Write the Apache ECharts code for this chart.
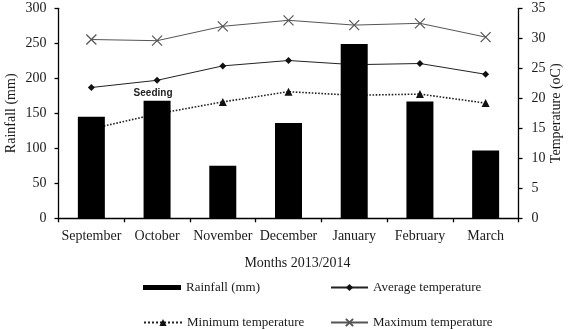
<!DOCTYPE html>
<html>
<head>
<meta charset="utf-8">
<script src="https://cdn.jsdelivr.net/npm/echarts@6/dist/echarts.min.js"></script>
<style>html,body{margin:0;padding:0;background:#fff}#c{width:569px;height:329px}</style>
</head>
<body>
<div id="c"></div>
<script>
var categories = ['September','October','November','December','January','February','March'];
var rainfall = [145, 168, 75, 136, 249, 167, 97];
var avgTemp = [21.8, 23.0, 25.4, 26.3, 25.6, 25.8, 24.0];
var minTemp = [14.9, 17.4, 19.4, 21.1, 20.5, 20.7, 19.2];
var maxTemp = [29.8, 29.6, 32.0, 33.0, 32.2, 32.5, 30.2];
var annotations = ['', 'Seeding', '', '', '', '', ''];

var serif = 'Liberation Serif';
var txt = '#1a1a1a';

var rainData = rainfall.map(function (v, i) {
  if (!annotations[i]) return v;
  return {
    value: v,
    label: {
      show: true, position: 'top', distance: 2, offset: [-4, 0],
      formatter: annotations[i],
      fontFamily: 'Liberation Sans', fontWeight: 'bold', fontSize: 10, color: '#222'
    }
  };
});

var legendText = {fontFamily: serif, fontSize: 13, color: txt};
function oneLegend(item, left, top, w, gap) {
  return {
    orient: 'horizontal', left: left, top: top, padding: 0,
    itemWidth: w, itemHeight: 9, itemTextGap: gap,
    textStyle: legendText, data: [item]
  };
}

var chart = echarts.init(document.getElementById('c'), null, {renderer: 'canvas'});
chart.setOption({
  animation: false,
  backgroundColor: '#fff',
  textStyle: {fontFamily: serif, color: txt},
  grid: {left: 58.5, right: 50.5, top: 8.3, bottom: 110.7, containLabel: false, outerBoundsMode: 'none'},
  legend: [
    oneLegend({name: 'Rainfall (mm)', icon: 'path://M0,0L38,0L38,5L0,5Z'}, 143, 281, 38, 4),
    oneLegend({name: 'Minimum temperature'}, 143, 316, 38, 4),
    oneLegend({name: 'Average temperature'}, 330, 281, 37, 5),
    oneLegend({name: 'Maximum temperature'}, 330, 316, 37, 5)
  ],
  xAxis: {
    type: 'category', data: categories,
    name: 'Months 2013/2014', nameLocation: 'middle', nameGap: 38, nameMoveOverlap: false,
    nameTextStyle: {fontFamily: serif, fontSize: 14, color: txt, padding: [0, 0, 0, 18]},
    axisLine: {lineStyle: {color: '#000', width: 1.3}},
    axisTick: {show: true, length: 4, lineStyle: {color: '#000', width: 1.3}},
    axisLabel: {fontFamily: serif, fontSize: 14, color: txt, margin: 11, interval: 0},
    splitLine: {show: false}
  },
  yAxis: [{
    type: 'value', min: 0, max: 300, interval: 50, position: 'left',
    name: 'Rainfall (mm)', nameLocation: 'middle', nameGap: 40, nameRotate: 90, nameMoveOverlap: false,
    nameTextStyle: {fontFamily: serif, fontSize: 14, color: txt},
    axisLine: {show: true, lineStyle: {color: '#000', width: 1.3}},
    axisTick: {show: true, length: 4, lineStyle: {color: '#000', width: 1.3}},
    axisLabel: {fontFamily: serif, fontSize: 14, color: txt, margin: 12},
    splitLine: {show: false}
  }, {
    type: 'value', min: 0, max: 35, interval: 5, position: 'right',
    name: 'Temperature (oC)', nameLocation: 'middle', nameGap: 31, nameRotate: 90, nameMoveOverlap: false,
    nameTextStyle: {fontFamily: serif, fontSize: 14, color: txt},
    axisLine: {show: true, lineStyle: {color: '#000', width: 1.3}},
    axisTick: {show: true, length: 4, lineStyle: {color: '#000', width: 1.3}},
    axisLabel: {fontFamily: serif, fontSize: 14, color: txt, margin: 13},
    splitLine: {show: false}
  }],
  series: [{
    name: 'Average temperature', type: 'line', yAxisIndex: 1, data: avgTemp,
    symbol: 'diamond', symbolSize: 7, z: 2,
    lineStyle: {color: '#222', width: 1}, itemStyle: {color: '#111'}
  }, {
    name: 'Minimum temperature', type: 'line', yAxisIndex: 1, data: minTemp,
    symbol: 'triangle', symbolSize: 8, z: 2,
    lineStyle: {color: '#222', width: 1.6, type: 'dotted'}, itemStyle: {color: '#111'}
  }, {
    name: 'Maximum temperature', type: 'line', yAxisIndex: 1, data: maxTemp,
    symbol: 'path://M0,0L10,10M10,0L0,10', symbolSize: 10, z: 2,
    lineStyle: {color: '#555', width: 1},
    itemStyle: {color: '#555', borderColor: '#555', borderWidth: 1.2}
  }, {
    name: 'Rainfall (mm)', type: 'bar', yAxisIndex: 0, data: rainData,
    barWidth: 27, z: 5,
    itemStyle: {color: '#000'}
  }]
});
</script>
</body>
</html>
